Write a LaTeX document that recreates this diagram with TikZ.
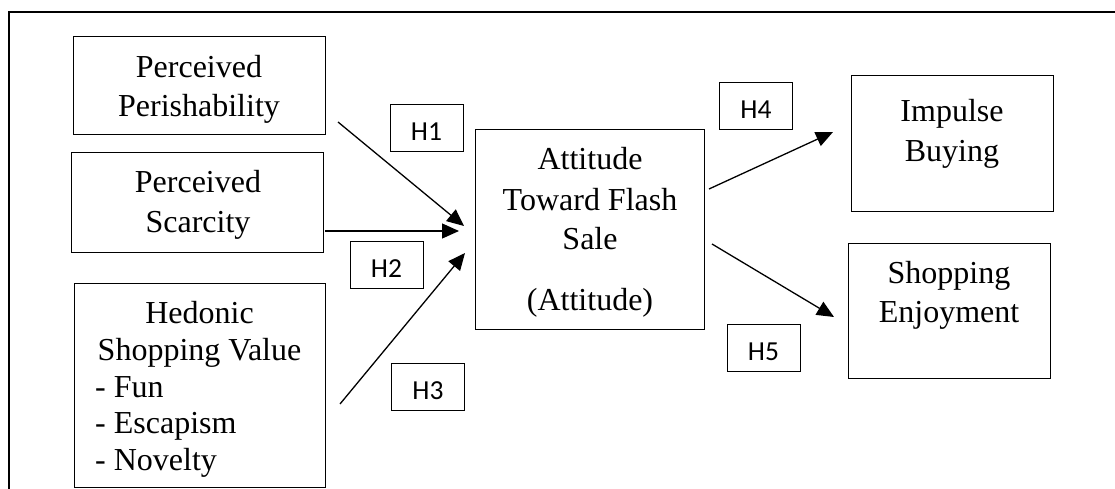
\documentclass[tikz,border=0pt]{standalone}
\usepackage{fontspec}
\setmainfont{Liberation Serif}
\newfontfamily\hfont{Carlito}
\usetikzlibrary{arrows.meta}
\begin{document}
\begin{tikzpicture}[x=1pt,y=-1pt,
  box/.style={draw, line width=1pt, inner sep=0pt},
  txt/.style={anchor=base, inner sep=0pt, font=\fontsize{32}{38}\selectfont},
  ltxt/.style={anchor=base west, inner sep=0pt, font=\fontsize{32}{38}\selectfont},
  hbox/.style={draw, line width=1pt, inner sep=0pt, minimum width=73pt, minimum height=47pt},
  hlab/.style={anchor=base, inner sep=0pt, font=\hfont\fontsize{27.5}{30}\selectfont},
  arr/.style={line width=1.3pt, -{Triangle[length=17pt,width=15pt]}}]
\useasboundingbox (0,0) rectangle (1115,489);
% outer frame
\coordinate (ftr) at (1115,12);
\coordinate (ftl) at (9,12);
\coordinate (fbl) at (9,489);
\draw[line width=2.6pt] (ftr) -- (ftl) -- (fbl);

% Perceived Perishability
\node[box, minimum width=252pt, minimum height=98pt] (pp) at (199,86) {};
\node[txt] (pp1) at (199,78) {Perceived};
\node[txt] (pp2) at (199,117) {Perishability};

% Perceived Scarcity
\node[box, minimum width=252pt, minimum height=99pt] (ps) at (197,202.5) {};
\node[txt] (ps1) at (198,193) {Perceived};
\node[txt] (ps2) at (198,232) {Scarcity};

% Hedonic Shopping Value
\node[box, minimum width=251pt, minimum height=204pt] (hs) at (199.5,385) {};
\node[txt] (hs1) at (199.5,323) {Hedonic};
\node[txt] (hs2) at (199.5,360) {Shopping Value};
\node[ltxt] (hs3) at (95,397) {- Fun};
\node[ltxt] (hs4) at (95,433) {- Escapism};
\node[ltxt] (hs5) at (95,470) {- Novelty};

% Attitude
\node[box, minimum width=229pt, minimum height=199pt] (at) at (589.5,229.5) {};
\node[txt] (at1) at (590,170) {Attitude};
\node[txt] (at2) at (590,210) {Toward Flash};
\node[txt] (at3) at (590,249) {Sale};
\node[txt] (at4) at (590,310) {(Attitude)};

% Impulse Buying
\node[box, minimum width=202pt, minimum height=135pt] (ib) at (952,143.5) {};
\node[txt] (ib1) at (952,122) {Impulse};
\node[txt] (ib2) at (952,161) {Buying};

% Shopping Enjoyment
\node[box, minimum width=202pt, minimum height=135pt] (se) at (949,310.5) {};
\node[txt] (se1) at (949,283) {Shopping};
\node[txt] (se2) at (949,322) {Enjoyment};

% hypothesis labels
\node[hbox] (h1b) at (426.5,128.5) {};
\node[hlab] (h1) at (426.5,141) {H1};
\node[hbox] (h2b) at (386.5,264.5) {};
\node[hlab] (h2) at (386.5,277) {H2};
\node[hbox] (h3b) at (428,386.5) {};
\node[hlab] (h3) at (428,399) {H3};
\node[hbox] (h4b) at (756,106.5) {};
\node[hlab] (h4) at (756,118.5) {H4};
\node[hbox] (h5b) at (763.5,347.5) {};
\node[hlab] (h5) at (763.5,360) {H5};

% arrows
\coordinate (a1s) at (338,122);
\coordinate (a1e) at (464,226);
\coordinate (a2s) at (325,231);
\coordinate (a2e) at (459,231);
\coordinate (a3s) at (340,404);
\coordinate (a3e) at (465,253);
\coordinate (a4s) at (709,189);
\coordinate (a4e) at (833,132);
\coordinate (a5s) at (712,244);
\coordinate (a5e) at (834,317);
\draw[arr] (a1s) -- (a1e);
\draw[arr] (a2s) -- (a2e);
\draw[arr] (a3s) -- (a3e);
\draw[arr] (a4s) -- (a4e);
\draw[arr] (a5s) -- (a5e);
\end{tikzpicture}
\end{document}
